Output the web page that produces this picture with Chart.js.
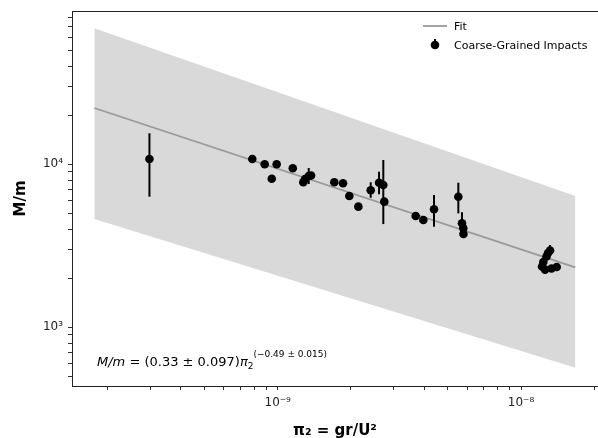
<!DOCTYPE html>
<html>
<head>
<meta charset="utf-8">
<script src="https://cdn.jsdelivr.net/npm/chart.js@4.4.1/dist/chart.umd.min.js"></script>
<style>
  body { margin: 0; background: #fff; }
  canvas { display: block; }
</style>
</head>
<body>
<canvas id="myChart" width="598" height="438"></canvas>
<script>
// measured impacts (pi_2, M/m)
const piVals = [2.97e-10, 7.86e-10, 8.84e-10, 9.9e-10, 9.45e-10, 1.153e-9, 1.274e-9, 1.295e-9, 1.341e-9, 1.371e-9,
  1.708e-9, 1.855e-9, 1.969e-9, 2.145e-9, 2.411e-9, 2.609e-9, 2.716e-9, 2.742e-9, 3.69e-9, 3.967e-9,
  4.389e-9, 5.525e-9, 5.72e-9, 5.79e-9, 5.8e-9,
  1.316e-8, 1.273e-8, 1.235e-8, 1.22e-8, 1.255e-8, 1.335e-8, 1.402e-8, 1.291e-8];
const massVals = [10780, 10780, 10000, 10000, 8160, 9450, 7760, 8125, 8475, 8540,
  7760, 7650, 6390, 5500, 6925, 7710, 7460, 5900, 4820, 4550,
  5300, 6330, 4345, 4050, 3740,
  2960, 2720, 2515, 2360, 2260, 2295, 2345, 2860];
// error bar ends (null = hidden behind marker)
const errLow = [6330, null, null, null, null, null, null, null, 7570, null,
  null, null, null, null, 6240, 6550, 4300, null, null, null,
  4140, 5000, 3950, null, null,
  2740, null, null, null, null, null, null, null];
const errHigh = [15500, null, null, null, null, null, null, null, 9490, null,
  null, null, null, null, 7760, 9010, 10630, null, null, null,
  6480, 7710, 5080, null, null,
  3200, null, null, null, null, null, null, null];

// fit line and its band, end points
const fitPi = [1.763e-10, 1.672e-8];
const fitMass = [22150, 2334];
const bandHigh = [68300, 6390];
const bandLow = [4617, 565];

const xTicks = [2e-10, 3e-10, 4e-10, 5e-10, 6e-10, 7e-10, 8e-10, 9e-10, 1e-9,
  2e-9, 3e-9, 4e-9, 5e-9, 6e-9, 7e-9, 8e-9, 9e-9, 1e-8, 2e-8];
const yTicks = [500, 600, 700, 800, 900, 1000, 2000, 3000, 4000, 5000, 6000, 7000, 8000, 9000,
  10000, 20000, 30000, 40000, 50000, 60000, 70000, 80000];

const supMap = { '-': '⁻', '0': '⁰', '1': '¹', '2': '²', '3': '³', '4': '⁴', '5': '⁵', '6': '⁶', '7': '⁷', '8': '⁸', '9': '⁹' };
function powLabel(v) {
  const e = Math.log10(v);
  if (Math.abs(e - Math.round(e)) > 1e-6) return '';
  return '10' + String(Math.round(e)).split('').map(c => supMap[c]).join('');
}

const FONT = "'DejaVu Sans', sans-serif";

const extras = {
  id: 'extras',
  afterDatasetsDraw(chart) {
    const ctx = chart.ctx;
    const xs = chart.scales.x, ys = chart.scales.y;
    const area = chart.chartArea;
    ctx.save();
    // error bars
    ctx.strokeStyle = '#000';
    ctx.lineWidth = 2;
    for (let i = 0; i < piVals.length; i++) {
      if (errLow[i] == null) continue;
      const px = xs.getPixelForValue(piVals[i]);
      ctx.beginPath();
      ctx.moveTo(px, ys.getPixelForValue(errLow[i]));
      ctx.lineTo(px, ys.getPixelForValue(errHigh[i]));
      ctx.stroke();
    }
    // frame
    ctx.strokeStyle = '#222';
    ctx.lineWidth = 1;
    ctx.strokeRect(area.left + 0.5, area.top + 0.5, area.right - area.left, area.bottom - area.top);

    // legend
    const lx = 423, ly = area.top + 15;
    ctx.strokeStyle = '#999';
    ctx.lineWidth = 1.8;
    ctx.beginPath();
    ctx.moveTo(lx, ly);
    ctx.lineTo(lx + 24, ly);
    ctx.stroke();
    ctx.fillStyle = '#000';
    ctx.font = '11px ' + FONT;
    ctx.textBaseline = 'middle';
    ctx.fillText('Fit', lx + 31, ly + 1);
    const my = ly + 19;
    ctx.strokeStyle = '#000';
    ctx.lineWidth = 2;
    ctx.beginPath();
    ctx.moveTo(lx + 12, my - 6);
    ctx.lineTo(lx + 12, my + 4);
    ctx.stroke();
    ctx.beginPath();
    ctx.arc(lx + 12, my, 4.3, 0, Math.PI * 2);
    ctx.fill();
    ctx.fillText('Coarse-Grained Impacts', lx + 31, my + 1);

    // fit formula
    let tx = area.left + 25;
    const base = area.bottom - 20;
    ctx.textBaseline = 'alphabetic';
    const piece = (txt, font, dy) => {
      ctx.font = font;
      ctx.fillText(txt, tx, base + dy);
      tx += ctx.measureText(txt).width;
    };
    piece('M/m', 'italic 13px ' + FONT, 0);
    piece(' = (0.33 ± 0.097)', '13px ' + FONT, 0);
    piece('π', 'italic 13px ' + FONT, 0);
    piece('2', '9px ' + FONT, 3);
    piece('(−0.49 ± 0.015)', '9px ' + FONT, -9);
    ctx.restore();
  }
};

const ctx = document.getElementById('myChart').getContext('2d');
const myChart = new Chart(ctx, {
  type: 'scatter',
  data: {
    datasets: [
      {
        label: 'Coarse-Grained Impacts',
        data: piVals.map((v, i) => ({ x: v, y: massVals[i] })),
        backgroundColor: '#000',
        borderWidth: 0,
        pointRadius: 4.3,
        order: 0
      },
      {
        label: 'Fit',
        type: 'line',
        data: fitPi.map((v, i) => ({ x: v, y: fitMass[i] })),
        borderColor: '#999',
        borderWidth: 1.8,
        pointRadius: 0,
        fill: false,
        order: 1
      },
      {
        label: 'band high',
        type: 'line',
        data: fitPi.map((v, i) => ({ x: v, y: bandHigh[i] })),
        borderWidth: 0,
        borderColor: 'rgba(0,0,0,0)',
        backgroundColor: '#d9d9d9',
        pointRadius: 0,
        fill: '+1',
        order: 2
      },
      {
        label: 'band low',
        type: 'line',
        data: fitPi.map((v, i) => ({ x: v, y: bandLow[i] })),
        borderWidth: 0,
        borderColor: 'rgba(0,0,0,0)',
        pointRadius: 0,
        fill: false,
        order: 3
      }
    ]
  },
  options: {
    responsive: false,
    animation: false,
    layout: { autoPadding: false, padding: { top: 11, right: 0, left: 0, bottom: 0 } },
    plugins: { legend: { display: false }, tooltip: { enabled: false } },
    scales: {
      x: {
        type: 'logarithmic',
        min: 1.427e-10,
        max: 2.072e-8,
        afterBuildTicks: s => { s.ticks = xTicks.map(v => ({ value: v })); },
        afterFit: s => { s.height = 52; s.paddingLeft = 0; s.paddingRight = 0; },
        grid: { drawOnChartArea: false, drawTicks: true, tickLength: 4, color: '#333' },
        border: { display: true, color: '#222' },
        ticks: {
          autoSkip: false, maxRotation: 0, padding: 6, color: '#222',
          font: { family: FONT, size: 12 },
          callback: v => powLabel(v)
        },
        title: {
          display: true, text: 'π₂ = gr/U²', color: '#000',
          font: { family: FONT, size: 15, weight: 'bold' },
          padding: { top: 0, bottom: -2 }
        }
      },
      y: {
        type: 'logarithmic',
        min: 436.5,
        max: 87200,
        afterBuildTicks: s => { s.ticks = yTicks.map(v => ({ value: v })); },
        afterFit: s => { s.width = 72; s.paddingTop = 0; s.paddingBottom = 0; },
        grid: { drawOnChartArea: false, drawTicks: true, tickLength: 4, color: '#333' },
        border: { display: true, color: '#222' },
        ticks: {
          autoSkip: false, padding: 5, color: '#222',
          font: { family: FONT, size: 12 },
          callback: v => powLabel(v)
        },
        title: {
          display: true, text: 'M/m', color: '#000',
          font: { family: FONT, size: 15, weight: 'bold' },
          padding: { top: 12, bottom: 0 }
        }
      }
    }
  },
  plugins: [extras]
});
</script>
</body>
</html>
